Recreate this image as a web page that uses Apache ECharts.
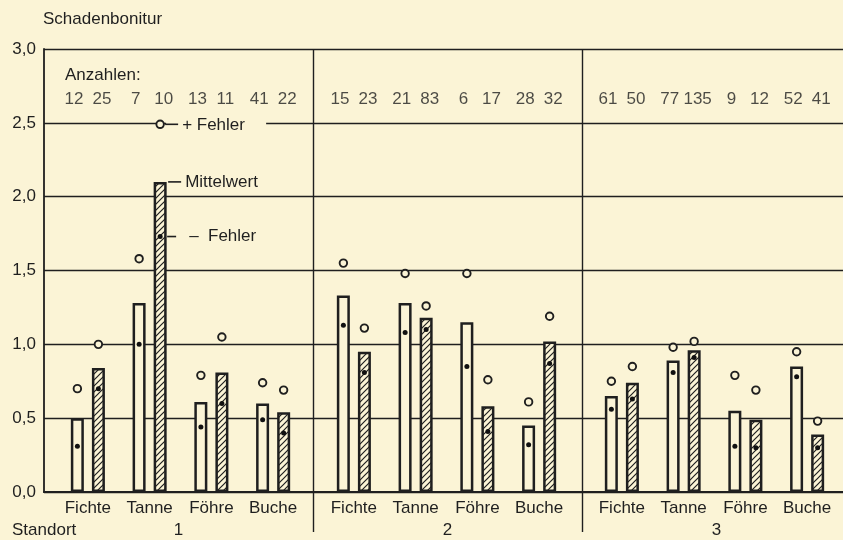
<!DOCTYPE html>
<html>
<head>
<meta charset="utf-8">
<script src="https://cdn.jsdelivr.net/npm/echarts@6.0.0/dist/echarts.min.js"></script>
<style>
html, body { margin: 0; padding: 0; background: #fbf4d6; }
#chart { width: 843px; height: 540px; }
</style>
</head>
<body>
<div id="chart"></div>
<script>
// Daten je Standort, Reihenfolge wie arten
var standorte = ['1', '2', '3'];
var arten = ['Fichte', 'Tanne', 'Föhre', 'Buche'];
var yTicks = [0, 0.5, 1, 1.5, 2, 2.5, 3];

var mittelOffen   = [[0.50, 1.28, 0.61, 0.60], [1.33, 1.28, 1.15, 0.45], [0.65, 0.89, 0.55, 0.85]];
var mittelSchraff = [[0.84, 2.10, 0.81, 0.54], [0.95, 1.18, 0.58, 1.02], [0.74, 0.96, 0.49, 0.39]];
var plusOffen     = [[0.70, 1.58, 0.79, 0.74], [1.55, 1.48, 1.48, 0.61], [0.75, 0.98, 0.79, 0.95]];
var plusSchraff   = [[1.00, 2.49, 1.05, 0.69], [1.11, 1.26, 0.76, 1.19], [0.85, 1.02, 0.69, 0.48]];
var minusOffen    = [[0.31, 1.00, 0.44, 0.49], [1.13, 1.08, 0.85, 0.32], [0.56, 0.81, 0.31, 0.78]];
var minusSchraff  = [[0.70, 1.73, 0.60, 0.40], [0.81, 1.10, 0.41, 0.87], [0.63, 0.91, 0.30, 0.30]];
var anzahlOffen   = [[12, 7, 13, 41], [15, 21, 6, 28], [61, 77, 9, 52]];
var anzahlSchraff = [[25, 10, 11, 22], [23, 83, 17, 32], [50, 135, 12, 41]];

var bg = '#fbf4d6';
var ink = '#1f1f1f';
var font = "'Liberation Sans', Arial, sans-serif";
var anzahlZeile = 2.66;   // Höhe der Zeile mit den Anzahlen
var versatz = 10.5;       // halber Abstand der beiden Säulen

// schraffur als canvas-muster
function schraffur() {
    var c = document.createElement('canvas');
    c.width = 6; c.height = 6;
    var ctx = c.getContext('2d');
    ctx.fillStyle = bg;
    ctx.fillRect(0, 0, 6, 6);
    ctx.strokeStyle = ink;
    ctx.lineWidth = 1.2;
    ctx.beginPath();
    ctx.moveTo(-1, 7); ctx.lineTo(7, -1);
    ctx.moveTo(-1, 1); ctx.lineTo(1, -1);
    ctx.moveTo(5, 7); ctx.lineTo(7, 5);
    ctx.stroke();
    return c;
}
var hatch = schraffur();

var chart = echarts.init(document.getElementById('chart'));

// grid 0 ist etwas breiter als das Bild, damit die Trennlinien passen
var grids = [{ left: 44, width: 807, top: 49, bottom: 48, outerBoundsMode: 'none' }];
var xAxes = [{
    gridIndex: 0, type: 'category', data: standorte, boundaryGap: true,
    axisLine: { show: true, lineStyle: { color: ink, width: 2.2 } },
    axisTick: { show: true, length: 40, interval: function (i) { return i > 0; }, lineStyle: { color: ink, width: 1.4 } },
    splitLine: { show: true, interval: function (i) { return i > 0; }, lineStyle: { color: ink, width: 1.4 } },
    axisLabel: { fontSize: 17, fontFamily: font, color: ink, margin: 30 }
}];
var yAxes = [{
    gridIndex: 0, type: 'value', min: 0, max: 3, interval: 0.5,
    axisLine: { show: true, lineStyle: { color: ink, width: 1.8 } },
    axisTick: { show: false },
    splitLine: { show: true, lineStyle: { color: ink, width: 1.3 } },
    axisLabel: {
        fontSize: 17, fontFamily: font, color: ink, margin: 8,
        formatter: function (v) { return v.toFixed(1).replace('.', ','); }
    }
}];
var lefts = [57, 323, 591];
var series = [];

standorte.forEach(function (s, g) {
    var ax = g + 1;
    grids.push({ left: lefts[g], width: 247, top: 49, bottom: 48, outerBoundsMode: 'none' });
    xAxes.push({
        gridIndex: ax, type: 'category', data: arten,
        axisLine: { show: false }, axisTick: { show: false }, splitLine: { show: false },
        axisLabel: { interval: 0, fontSize: 17, fontFamily: font, color: ink, margin: 8 }
    });
    yAxes.push({ gridIndex: ax, type: 'value', min: 0, max: 3, show: false });

    var punkte = function (arr) { return arr[g].map(function (v, i) { return [i, v]; }); };
    var base = { xAxisIndex: ax, yAxisIndex: ax, silent: true };

    series.push(Object.assign({
        type: 'bar', data: mittelOffen[g], barWidth: 13, barGap: '62%',
        itemStyle: { color: bg, borderColor: ink, borderWidth: 2.5 }
    }, base));
    series.push(Object.assign({
        type: 'bar', data: mittelSchraff[g], barWidth: 13, barGap: '62%',
        itemStyle: { color: { image: hatch, repeat: 'repeat' }, borderColor: ink, borderWidth: 2.5 }
    }, base));
    [[plusOffen, -versatz], [plusSchraff, versatz]].forEach(function (p) {
        series.push(Object.assign({
            type: 'scatter', data: punkte(p[0]), symbol: 'circle', symbolSize: 7.5,
            symbolOffset: [p[1], 0], z: 3,
            itemStyle: { color: bg, borderColor: ink, borderWidth: 1.9, opacity: 1 }
        }, base));
    });
    [[minusOffen, -versatz], [minusSchraff, versatz]].forEach(function (p) {
        series.push(Object.assign({
            type: 'scatter', data: punkte(p[0]), symbol: 'circle', symbolSize: 5,
            symbolOffset: [p[1], 0], z: 3,
            itemStyle: { color: '#111', opacity: 1 }
        }, base));
    });
    [[anzahlOffen, -14], [anzahlSchraff, 14]].forEach(function (p) {
        series.push(Object.assign({
            type: 'scatter', data: arten.map(function (a, i) { return [i, anzahlZeile]; }),
            symbolSize: 1, itemStyle: { color: 'transparent' },
            label: {
                show: true, position: 'inside', offset: [p[1], 0],
                fontSize: 17, fontFamily: font, color: ink,
                formatter: function (d) { return String(p[0][g][d.dataIndex]); }
            }
        }, base));
    });
});

chart.setOption({
    backgroundColor: bg,
    animation: false,
    title: { text: 'Schadenbonitur', left: 38, top: 6, textStyle: { fontSize: 17, fontWeight: 'normal', fontFamily: font, color: ink } },
    grid: grids,
    xAxis: xAxes,
    yAxis: yAxes,
    series: series
});

// Legende direkt an der Tanne-Säule von Standort 1
var ref = { xAxisIndex: 1, yAxisIndex: 1 };
var cx = chart.convertToPixel(ref, [1, mittelSchraff[0][1]])[0] + versatz;
var yMittel = chart.convertToPixel(ref, [1, mittelSchraff[0][1]])[1];
var yPlus = chart.convertToPixel(ref, [1, plusSchraff[0][1]])[1];
var yMinus = chart.convertToPixel(ref, [1, minusSchraff[0][1]])[1];
var txt = function (x, y, s) {
    return { type: 'text', x: x, y: y, z: 101, style: { text: s, fill: ink, fontSize: 17, fontFamily: font, verticalAlign: 'middle' } };
};
var strich = function (x1, x2, y) {
    return { type: 'line', z: 101, shape: { x1: x1, y1: y, x2: x2, y2: y }, style: { stroke: ink, lineWidth: 1.6 } };
};

chart.setOption({
    graphic: [
        { type: 'rect', z: 100, shape: { x: cx + 6, y: yPlus - 8, width: 100, height: 15 }, style: { fill: bg } },
        strich(cx + 5, cx + 18, yPlus),
        txt(cx + 22, yPlus + 1, '+ Fehler'),
        strich(cx + 8, cx + 21, yMittel),
        txt(cx + 25, yMittel, 'Mittelwert'),
        strich(cx + 7, cx + 16, yMinus),
        txt(cx + 29, yMinus, '–  Fehler'),
        txt(65, 75, 'Anzahlen:'),
        txt(12, 530, 'Standort')
    ]
});
</script>
</body>
</html>
